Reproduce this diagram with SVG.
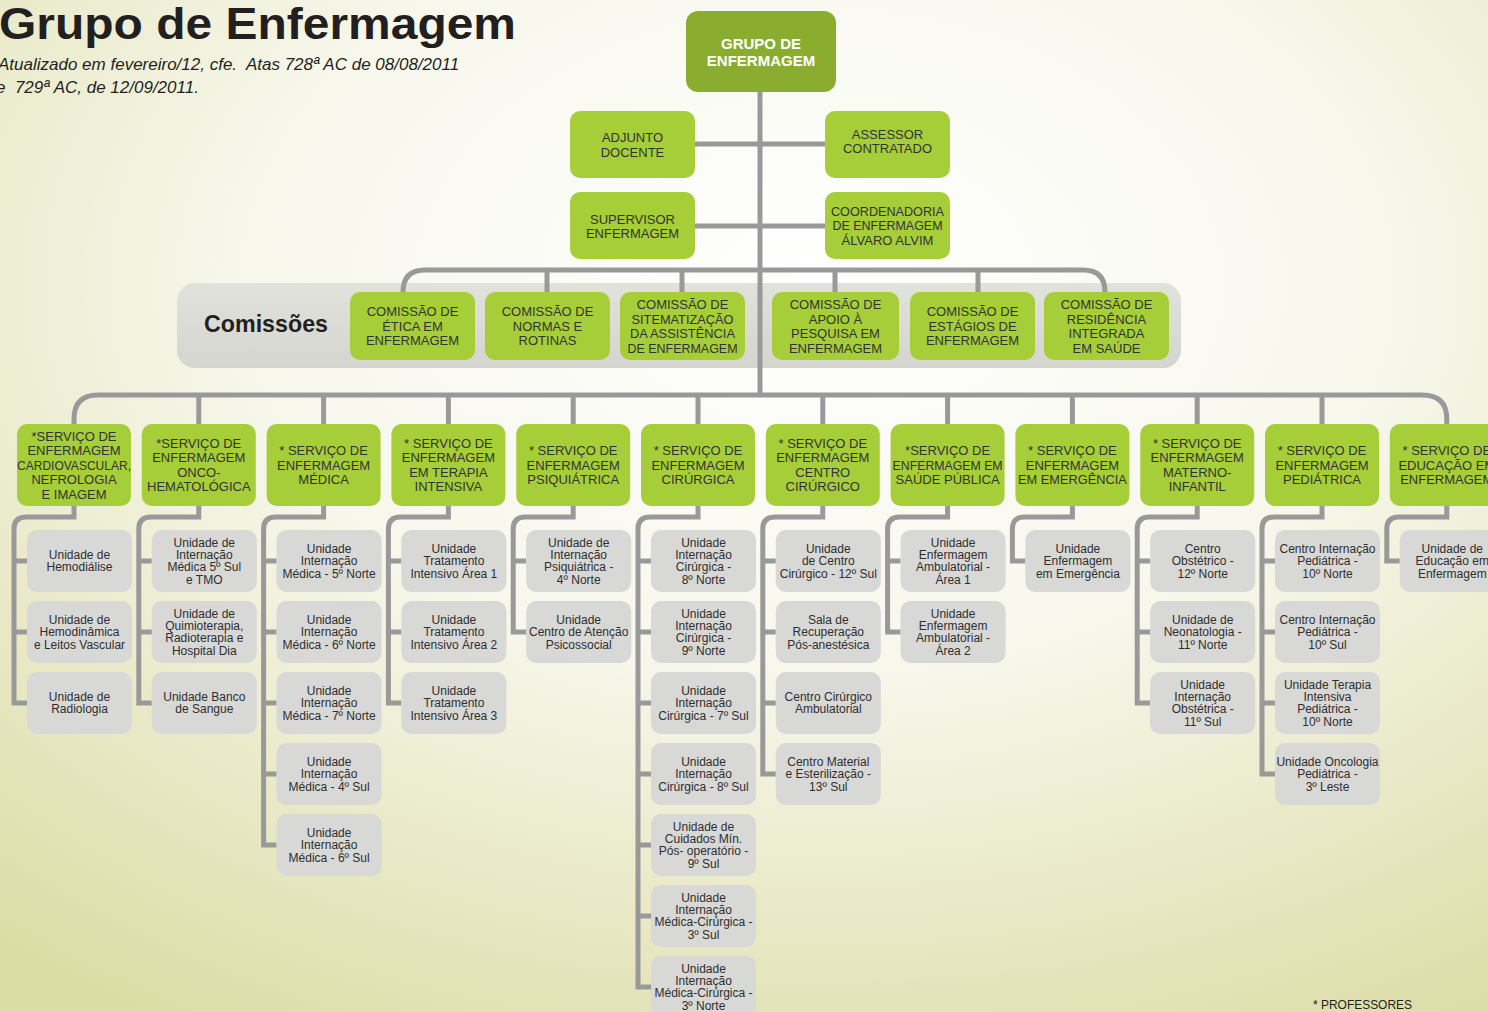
<svg xmlns="http://www.w3.org/2000/svg" width="1488" height="1012" viewBox="0 0 1488 1012">
<defs>
<radialGradient id="bg" cx="0.55" cy="0.28" r="0.85">
<stop offset="0" stop-color="#ffffff"/>
<stop offset="0.45" stop-color="#f7f7ec"/>
<stop offset="1" stop-color="#dcdca6"/>
</radialGradient>
<linearGradient id="panel" x1="0" y1="0" x2="0" y2="1">
<stop offset="0" stop-color="#e2e2dd"/>
<stop offset="1" stop-color="#d5d5d0"/>
</linearGradient>
</defs>
<style>
.g{fill:#a6ce39}
.top{fill:#8aad2f}
.u{fill:#d8d8d6}
.gt{font-family:"Liberation Sans",Arial,sans-serif;font-size:13px;fill:#333333;text-anchor:middle}
.ut{font-family:"Liberation Sans",Arial,sans-serif;font-size:12px;fill:#2e2e2e;text-anchor:middle}
.tt{font-family:"Liberation Sans",Arial,sans-serif;font-size:15px;font-weight:bold;fill:#ffffff;text-anchor:middle}
.con{fill:none;stroke:#999999;stroke-width:5}
</style>
<rect x="0" y="0" width="1488" height="1012" fill="url(#bg)"/>
<text x="-1" y="39" font-family="Liberation Sans, Arial, sans-serif" font-size="45" font-weight="bold" fill="#231f20" textLength="517" lengthAdjust="spacingAndGlyphs">Grupo de Enfermagem</text>
<text x="-2" y="70" font-family="Liberation Sans, Arial, sans-serif" font-size="17" font-style="italic" fill="#231f20" xml:space="preserve">Atualizado em fevereiro/12, cfe.  Atas 728ª AC de 08/08/2011</text>
<text x="-4" y="93" font-family="Liberation Sans, Arial, sans-serif" font-size="17" font-style="italic" fill="#231f20" xml:space="preserve">e  729ª AC, de 12/09/2011.</text>
<text x="1313" y="1009" font-family="Liberation Sans, Arial, sans-serif" font-size="13" fill="#231f20" textLength="99" lengthAdjust="spacingAndGlyphs">* PROFESSORES</text>

<g id="comissoes-panel">
<rect x="177" y="283" width="1004" height="85" rx="18" fill="url(#panel)"/>
<text x="204" y="332" font-family="Liberation Sans, Arial, sans-serif" font-size="24" font-weight="bold" fill="#231f20" textLength="124" lengthAdjust="spacingAndGlyphs">Comissões</text>
</g>

<g id="connectors" class="con">
<path d="M760 92V395"/>
<path d="M695 144H825M695 226H825"/>
<path d="M403 292Q403 270 425 270H1083Q1105 270 1105 292"/>
<path d="M547 270V292M682 270V292M835 270V292M978 270V292"/>
<path d="M74 424V419Q74 395 98 395H1422Q1446.8 395 1446.8 419V424"/>
<path d="M198.8 395V424M323.6 395V424M448.4 395V424M573.2 395V424M698 395V424M822.8 395V424M947.6 395V424M1072.4 395V424M1197.2 395V424M1322 395V424"/>
<path d="M74 506V517H26Q14 517 14 529V703H27M14 561H27M14 632H27"/>
<path d="M198.8 506V517H150.8Q138.8 517 138.8 529V703H151.8M138.8 561H151.8M138.8 632H151.8"/>
<path d="M323.6 506V517H275.6Q263.6 517 263.6 529V845H276.6M263.6 561H276.6M263.6 632H276.6M263.6 703H276.6M263.6 774H276.6"/>
<path d="M448.4 506V517H400.4Q388.4 517 388.4 529V703H401.4M388.4 561H401.4M388.4 632H401.4"/>
<path d="M573.2 506V517H525.2Q513.2 517 513.2 529V632H526.2M513.2 561H526.2"/>
<path d="M698 506V517H650Q638 517 638 529V987H651M638 561H651M638 632H651M638 703H651M638 774H651M638 845H651M638 916H651"/>
<path d="M822.8 506V517H774.8Q762.8 517 762.8 529V774H775.8M762.8 561H775.8M762.8 632H775.8M762.8 703H775.8"/>
<path d="M947.6 506V517H899.6Q887.6 517 887.6 529V632H900.6M887.6 561H900.6"/>
<path d="M1072.4 506V517H1024.4Q1012.4 517 1012.4 529V561H1025.4"/>
<path d="M1197.2 506V517H1149.2Q1137.2 517 1137.2 529V703H1150.2M1137.2 561H1150.2M1137.2 632H1150.2"/>
<path d="M1322 506V517H1274Q1262 517 1262 529V774H1275M1262 561H1275M1262 632H1275M1262 703H1275"/>
<path d="M1446.8 506V517H1398.8Q1386.8 517 1386.8 529V561H1399.8"/>
</g>

<g id="grupo"><rect class="top" x="686" y="11" width="150" height="81" rx="12"/><text class="tt"><tspan x="761" y="49">GRUPO DE</tspan><tspan x="761" y="66">ENFERMAGEM</tspan></text></g>
<g id="adjunto"><rect class="g" x="570" y="111" width="125" height="67" rx="10"/><text class="gt"><tspan x="632.5" y="142">ADJUNTO</tspan><tspan x="632.5" y="156.5">DOCENTE</tspan></text></g>
<g id="assessor"><rect class="g" x="825" y="111" width="125" height="67" rx="10"/><text class="gt"><tspan x="887.5" y="138.5">ASSESSOR</tspan><tspan x="887.5" y="153">CONTRATADO</tspan></text></g>
<g id="supervisor"><rect class="g" x="570" y="192" width="125" height="67" rx="10"/><text class="gt"><tspan x="632.5" y="223.5">SUPERVISOR</tspan><tspan x="632.5" y="238">ENFERMAGEM</tspan></text></g>
<g id="coordenadoria"><rect class="g" x="825" y="192" width="125" height="67" rx="10"/><text class="gt"><tspan x="887.5" y="215.7" textLength="113" lengthAdjust="spacingAndGlyphs">COORDENADORIA</tspan><tspan x="887.5" y="230.2" textLength="110" lengthAdjust="spacingAndGlyphs">DE ENFERMAGEM</tspan><tspan x="887.5" y="244.7">ÁLVARO ALVIM</tspan></text></g>

<g id="com-etica"><rect class="g" x="350" y="292" width="125" height="68" rx="10"/><text class="gt"><tspan x="412.5" y="316.2">COMISSÃO DE</tspan><tspan x="412.5" y="330.7">ÉTICA EM</tspan><tspan x="412.5" y="345.2">ENFERMAGEM</tspan></text></g>
<g id="com-normas"><rect class="g" x="485" y="292" width="125" height="68" rx="10"/><text class="gt"><tspan x="547.5" y="316.2">COMISSÃO DE</tspan><tspan x="547.5" y="330.7">NORMAS E</tspan><tspan x="547.5" y="345.2">ROTINAS</tspan></text></g>
<g id="com-sistematizacao"><rect class="g" x="620" y="292" width="125" height="68" rx="10"/><text class="gt"><tspan x="682.5" y="309">COMISSÃO DE</tspan><tspan x="682.5" y="323.5" textLength="102" lengthAdjust="spacingAndGlyphs">SITEMATIZAÇÃO</tspan><tspan x="682.5" y="338" textLength="105" lengthAdjust="spacingAndGlyphs">DA ASSISTÊNCIA</tspan><tspan x="682.5" y="352.5" textLength="110" lengthAdjust="spacingAndGlyphs">DE ENFERMAGEM</tspan></text></g>
<g id="com-pesquisa"><rect class="g" x="772" y="292" width="127" height="68" rx="10"/><text class="gt"><tspan x="835.5" y="309">COMISSÃO DE</tspan><tspan x="835.5" y="323.5">APOIO À</tspan><tspan x="835.5" y="338">PESQUISA EM</tspan><tspan x="835.5" y="352.5">ENFERMAGEM</tspan></text></g>
<g id="com-estagios"><rect class="g" x="910" y="292" width="125" height="68" rx="10"/><text class="gt"><tspan x="972.5" y="316.2">COMISSÃO DE</tspan><tspan x="972.5" y="330.7">ESTÁGIOS DE</tspan><tspan x="972.5" y="345.2">ENFERMAGEM</tspan></text></g>
<g id="com-residencia"><rect class="g" x="1044" y="292" width="125" height="68" rx="10"/><text class="gt"><tspan x="1106.5" y="309">COMISSÃO DE</tspan><tspan x="1106.5" y="323.5">RESIDÊNCIA</tspan><tspan x="1106.5" y="338">INTEGRADA</tspan><tspan x="1106.5" y="352.5">EM SAÚDE</tspan></text></g>

<g id="s1"><rect class="g" x="17" y="424" width="114" height="82" rx="10"/><text class="gt"><tspan x="74" y="440.7">*SERVIÇO DE</tspan><tspan x="74" y="455.2">ENFERMAGEM</tspan><tspan x="74" y="469.7" textLength="114" lengthAdjust="spacingAndGlyphs">CARDIOVASCULAR,</tspan><tspan x="74" y="484.2">NEFROLOGIA</tspan><tspan x="74" y="498.7">E IMAGEM</tspan></text></g>
<g id="s2"><rect class="g" x="141.8" y="424" width="114" height="82" rx="10"/><text class="gt"><tspan x="198.8" y="447.95">*SERVIÇO DE</tspan><tspan x="198.8" y="462.45">ENFERMAGEM</tspan><tspan x="198.8" y="476.95">ONCO-</tspan><tspan x="198.8" y="491.45">HEMATOLÓGICA</tspan></text></g>
<g id="s3"><rect class="g" x="266.6" y="424" width="114" height="82" rx="10"/><text class="gt"><tspan x="323.6" y="455.2">* SERVIÇO DE</tspan><tspan x="323.6" y="469.7">ENFERMAGEM</tspan><tspan x="323.6" y="484.2">MÉDICA</tspan></text></g>
<g id="s4"><rect class="g" x="391.4" y="424" width="114" height="82" rx="10"/><text class="gt"><tspan x="448.4" y="447.95">* SERVIÇO DE</tspan><tspan x="448.4" y="462.45">ENFERMAGEM</tspan><tspan x="448.4" y="476.95">EM TERAPIA</tspan><tspan x="448.4" y="491.45">INTENSIVA</tspan></text></g>
<g id="s5"><rect class="g" x="516.2" y="424" width="114" height="82" rx="10"/><text class="gt"><tspan x="573.2" y="455.2">* SERVIÇO DE</tspan><tspan x="573.2" y="469.7">ENFERMAGEM</tspan><tspan x="573.2" y="484.2">PSIQUIÁTRICA</tspan></text></g>
<g id="s6"><rect class="g" x="641" y="424" width="114" height="82" rx="10"/><text class="gt"><tspan x="698" y="455.2">* SERVIÇO DE</tspan><tspan x="698" y="469.7">ENFERMAGEM</tspan><tspan x="698" y="484.2">CIRÚRGICA</tspan></text></g>
<g id="s7"><rect class="g" x="765.8" y="424" width="114" height="82" rx="10"/><text class="gt"><tspan x="822.8" y="447.95">* SERVIÇO DE</tspan><tspan x="822.8" y="462.45">ENFERMAGEM</tspan><tspan x="822.8" y="476.95">CENTRO</tspan><tspan x="822.8" y="491.45">CIRÚRGICO</tspan></text></g>
<g id="s8"><rect class="g" x="890.6" y="424" width="114" height="82" rx="10"/><text class="gt"><tspan x="947.6" y="455.2">*SERVIÇO DE</tspan><tspan x="947.6" y="469.7" textLength="110" lengthAdjust="spacingAndGlyphs">ENFERMAGEM EM</tspan><tspan x="947.6" y="484.2">SAÚDE PÚBLICA</tspan></text></g>
<g id="s9"><rect class="g" x="1015.4" y="424" width="114" height="82" rx="10"/><text class="gt"><tspan x="1072.4" y="455.2">* SERVIÇO DE</tspan><tspan x="1072.4" y="469.7">ENFERMAGEM</tspan><tspan x="1072.4" y="484.2" textLength="109" lengthAdjust="spacingAndGlyphs">EM EMERGÊNCIA</tspan></text></g>
<g id="s10"><rect class="g" x="1140.2" y="424" width="114" height="82" rx="10"/><text class="gt"><tspan x="1197.2" y="447.95">* SERVIÇO DE</tspan><tspan x="1197.2" y="462.45">ENFERMAGEM</tspan><tspan x="1197.2" y="476.95">MATERNO-</tspan><tspan x="1197.2" y="491.45">INFANTIL</tspan></text></g>
<g id="s11"><rect class="g" x="1265" y="424" width="114" height="82" rx="10"/><text class="gt"><tspan x="1322" y="455.2">* SERVIÇO DE</tspan><tspan x="1322" y="469.7">ENFERMAGEM</tspan><tspan x="1322" y="484.2">PEDIÁTRICA</tspan></text></g>
<g id="s12"><rect class="g" x="1389.8" y="424" width="114" height="82" rx="10"/><text class="gt"><tspan x="1446.8" y="455.2">* SERVIÇO DE</tspan><tspan x="1446.8" y="469.7">EDUCAÇÃO EM</tspan><tspan x="1446.8" y="484.2">ENFERMAGEM</tspan></text></g>

<g id="u1-1"><rect class="u" x="27" y="530" width="105" height="62" rx="10"/><text class="ut"><tspan x="79.5" y="559.15">Unidade de</tspan><tspan x="79.5" y="571.45">Hemodiálise</tspan></text></g>
<g id="u1-2"><rect class="u" x="27" y="601" width="105" height="62" rx="10"/><text class="ut"><tspan x="79.5" y="624">Unidade de</tspan><tspan x="79.5" y="636.3">Hemodinâmica</tspan><tspan x="79.5" y="648.6">e Leitos Vascular</tspan></text></g>
<g id="u1-3"><rect class="u" x="27" y="672" width="105" height="62" rx="10"/><text class="ut"><tspan x="79.5" y="701.15">Unidade de</tspan><tspan x="79.5" y="713.45">Radiologia</tspan></text></g>

<g id="u2-1"><rect class="u" x="151.8" y="530" width="105" height="62" rx="10"/><text class="ut"><tspan x="204.3" y="546.85">Unidade de</tspan><tspan x="204.3" y="559.15">Internação</tspan><tspan x="204.3" y="571.45">Médica 5º Sul</tspan><tspan x="204.3" y="583.75">e TMO</tspan></text></g>
<g id="u2-2"><rect class="u" x="151.8" y="601" width="105" height="62" rx="10"/><text class="ut"><tspan x="204.3" y="617.85">Unidade de</tspan><tspan x="204.3" y="630.15">Quimioterapia,</tspan><tspan x="204.3" y="642.45">Radioterapia e</tspan><tspan x="204.3" y="654.75">Hospital Dia</tspan></text></g>
<g id="u2-3"><rect class="u" x="151.8" y="672" width="105" height="62" rx="10"/><text class="ut"><tspan x="204.3" y="701.15">Unidade Banco</tspan><tspan x="204.3" y="713.45">de Sangue</tspan></text></g>

<g id="u3-1"><rect class="u" x="276.6" y="530" width="105" height="62" rx="10"/><text class="ut"><tspan x="329.1" y="553">Unidade</tspan><tspan x="329.1" y="565.3">Internação</tspan><tspan x="329.1" y="577.6">Médica - 5º Norte</tspan></text></g>
<g id="u3-2"><rect class="u" x="276.6" y="601" width="105" height="62" rx="10"/><text class="ut"><tspan x="329.1" y="624">Unidade</tspan><tspan x="329.1" y="636.3">Internação</tspan><tspan x="329.1" y="648.6">Médica - 6º Norte</tspan></text></g>
<g id="u3-3"><rect class="u" x="276.6" y="672" width="105" height="62" rx="10"/><text class="ut"><tspan x="329.1" y="695">Unidade</tspan><tspan x="329.1" y="707.3">Internação</tspan><tspan x="329.1" y="719.6">Médica - 7º Norte</tspan></text></g>
<g id="u3-4"><rect class="u" x="276.6" y="743" width="105" height="62" rx="10"/><text class="ut"><tspan x="329.1" y="766">Unidade</tspan><tspan x="329.1" y="778.3">Internação</tspan><tspan x="329.1" y="790.6">Médica - 4º Sul</tspan></text></g>
<g id="u3-5"><rect class="u" x="276.6" y="814" width="105" height="62" rx="10"/><text class="ut"><tspan x="329.1" y="837">Unidade</tspan><tspan x="329.1" y="849.3">Internação</tspan><tspan x="329.1" y="861.6">Médica - 6º Sul</tspan></text></g>

<g id="u4-1"><rect class="u" x="401.4" y="530" width="105" height="62" rx="10"/><text class="ut"><tspan x="453.9" y="553">Unidade</tspan><tspan x="453.9" y="565.3">Tratamento</tspan><tspan x="453.9" y="577.6">Intensivo Área 1</tspan></text></g>
<g id="u4-2"><rect class="u" x="401.4" y="601" width="105" height="62" rx="10"/><text class="ut"><tspan x="453.9" y="624">Unidade</tspan><tspan x="453.9" y="636.3">Tratamento</tspan><tspan x="453.9" y="648.6">Intensivo Área 2</tspan></text></g>
<g id="u4-3"><rect class="u" x="401.4" y="672" width="105" height="62" rx="10"/><text class="ut"><tspan x="453.9" y="695">Unidade</tspan><tspan x="453.9" y="707.3">Tratamento</tspan><tspan x="453.9" y="719.6">Intensivo Área 3</tspan></text></g>

<g id="u5-1"><rect class="u" x="526.2" y="530" width="105" height="62" rx="10"/><text class="ut"><tspan x="578.7" y="546.85">Unidade de</tspan><tspan x="578.7" y="559.15">Internação</tspan><tspan x="578.7" y="571.45">Psiquiátrica -</tspan><tspan x="578.7" y="583.75">4º Norte</tspan></text></g>
<g id="u5-2"><rect class="u" x="526.2" y="601" width="105" height="62" rx="10"/><text class="ut"><tspan x="578.7" y="624">Unidade</tspan><tspan x="578.7" y="636.3">Centro de Atenção</tspan><tspan x="578.7" y="648.6">Psicossocial</tspan></text></g>

<g id="u6-1"><rect class="u" x="651" y="530" width="105" height="62" rx="10"/><text class="ut"><tspan x="703.5" y="546.85">Unidade</tspan><tspan x="703.5" y="559.15">Internação</tspan><tspan x="703.5" y="571.45">Cirúrgica -</tspan><tspan x="703.5" y="583.75">8º Norte</tspan></text></g>
<g id="u6-2"><rect class="u" x="651" y="601" width="105" height="62" rx="10"/><text class="ut"><tspan x="703.5" y="617.85">Unidade</tspan><tspan x="703.5" y="630.15">Internação</tspan><tspan x="703.5" y="642.45">Cirúrgica -</tspan><tspan x="703.5" y="654.75">9º Norte</tspan></text></g>
<g id="u6-3"><rect class="u" x="651" y="672" width="105" height="62" rx="10"/><text class="ut"><tspan x="703.5" y="695">Unidade</tspan><tspan x="703.5" y="707.3">Internação</tspan><tspan x="703.5" y="719.6">Cirúrgica - 7º Sul</tspan></text></g>
<g id="u6-4"><rect class="u" x="651" y="743" width="105" height="62" rx="10"/><text class="ut"><tspan x="703.5" y="766">Unidade</tspan><tspan x="703.5" y="778.3">Internação</tspan><tspan x="703.5" y="790.6">Cirúrgica - 8º Sul</tspan></text></g>
<g id="u6-5"><rect class="u" x="651" y="814" width="105" height="62" rx="10"/><text class="ut"><tspan x="703.5" y="830.85">Unidade de</tspan><tspan x="703.5" y="843.15">Cuidados Mín.</tspan><tspan x="703.5" y="855.45">Pós- operatório -</tspan><tspan x="703.5" y="867.75">9º Sul</tspan></text></g>
<g id="u6-6"><rect class="u" x="651" y="885" width="105" height="62" rx="10"/><text class="ut"><tspan x="703.5" y="901.85">Unidade</tspan><tspan x="703.5" y="914.15">Internação</tspan><tspan x="703.5" y="926.45">Médica-Cirúrgica -</tspan><tspan x="703.5" y="938.75">3º Sul</tspan></text></g>
<g id="u6-7"><rect class="u" x="651" y="956" width="105" height="62" rx="10"/><text class="ut"><tspan x="703.5" y="972.85">Unidade</tspan><tspan x="703.5" y="985.15">Internação</tspan><tspan x="703.5" y="997.45">Médica-Cirúrgica -</tspan><tspan x="703.5" y="1009.75">3º Norte</tspan></text></g>

<g id="u7-1"><rect class="u" x="775.8" y="530" width="105" height="62" rx="10"/><text class="ut"><tspan x="828.3" y="553">Unidade</tspan><tspan x="828.3" y="565.3">de Centro</tspan><tspan x="828.3" y="577.6">Cirúrgico - 12º Sul</tspan></text></g>
<g id="u7-2"><rect class="u" x="775.8" y="601" width="105" height="62" rx="10"/><text class="ut"><tspan x="828.3" y="624">Sala de</tspan><tspan x="828.3" y="636.3">Recuperação</tspan><tspan x="828.3" y="648.6">Pós-anestésica</tspan></text></g>
<g id="u7-3"><rect class="u" x="775.8" y="672" width="105" height="62" rx="10"/><text class="ut"><tspan x="828.3" y="701.15">Centro Cirúrgico</tspan><tspan x="828.3" y="713.45">Ambulatorial</tspan></text></g>
<g id="u7-4"><rect class="u" x="775.8" y="743" width="105" height="62" rx="10"/><text class="ut"><tspan x="828.3" y="766">Centro Material</tspan><tspan x="828.3" y="778.3">e Esterilização -</tspan><tspan x="828.3" y="790.6">13º Sul</tspan></text></g>

<g id="u8-1"><rect class="u" x="900.6" y="530" width="105" height="62" rx="10"/><text class="ut"><tspan x="953.1" y="546.85">Unidade</tspan><tspan x="953.1" y="559.15">Enfermagem</tspan><tspan x="953.1" y="571.45">Ambulatorial -</tspan><tspan x="953.1" y="583.75">Área 1</tspan></text></g>
<g id="u8-2"><rect class="u" x="900.6" y="601" width="105" height="62" rx="10"/><text class="ut"><tspan x="953.1" y="617.85">Unidade</tspan><tspan x="953.1" y="630.15">Enfermagem</tspan><tspan x="953.1" y="642.45">Ambulatorial -</tspan><tspan x="953.1" y="654.75">Área 2</tspan></text></g>

<g id="u9-1"><rect class="u" x="1025.4" y="530" width="105" height="62" rx="10"/><text class="ut"><tspan x="1077.9" y="553">Unidade</tspan><tspan x="1077.9" y="565.3">Enfermagem</tspan><tspan x="1077.9" y="577.6">em Emergência</tspan></text></g>

<g id="u10-1"><rect class="u" x="1150.2" y="530" width="105" height="62" rx="10"/><text class="ut"><tspan x="1202.7" y="553">Centro</tspan><tspan x="1202.7" y="565.3">Obstétrico -</tspan><tspan x="1202.7" y="577.6">12º Norte</tspan></text></g>
<g id="u10-2"><rect class="u" x="1150.2" y="601" width="105" height="62" rx="10"/><text class="ut"><tspan x="1202.7" y="624">Unidade de</tspan><tspan x="1202.7" y="636.3">Neonatologia -</tspan><tspan x="1202.7" y="648.6">11º Norte</tspan></text></g>
<g id="u10-3"><rect class="u" x="1150.2" y="672" width="105" height="62" rx="10"/><text class="ut"><tspan x="1202.7" y="688.85">Unidade</tspan><tspan x="1202.7" y="701.15">Internação</tspan><tspan x="1202.7" y="713.45">Obstétrica -</tspan><tspan x="1202.7" y="725.75">11º Sul</tspan></text></g>

<g id="u11-1"><rect class="u" x="1275" y="530" width="105" height="62" rx="10"/><text class="ut"><tspan x="1327.5" y="553">Centro Internação</tspan><tspan x="1327.5" y="565.3">Pediátrica -</tspan><tspan x="1327.5" y="577.6">10º Norte</tspan></text></g>
<g id="u11-2"><rect class="u" x="1275" y="601" width="105" height="62" rx="10"/><text class="ut"><tspan x="1327.5" y="624">Centro Internação</tspan><tspan x="1327.5" y="636.3">Pediátrica -</tspan><tspan x="1327.5" y="648.6">10º Sul</tspan></text></g>
<g id="u11-3"><rect class="u" x="1275" y="672" width="105" height="62" rx="10"/><text class="ut"><tspan x="1327.5" y="688.85">Unidade Terapia</tspan><tspan x="1327.5" y="701.15">Intensiva</tspan><tspan x="1327.5" y="713.45">Pediátrica -</tspan><tspan x="1327.5" y="725.75">10º Norte</tspan></text></g>
<g id="u11-4"><rect class="u" x="1275" y="743" width="105" height="62" rx="10"/><text class="ut"><tspan x="1327.5" y="766">Unidade Oncologia</tspan><tspan x="1327.5" y="778.3">Pediátrica -</tspan><tspan x="1327.5" y="790.6">3º Leste</tspan></text></g>

<g id="u12-1"><rect class="u" x="1399.8" y="530" width="105" height="62" rx="10"/><text class="ut"><tspan x="1452.3" y="553">Unidade de</tspan><tspan x="1452.3" y="565.3">Educação em</tspan><tspan x="1452.3" y="577.6">Enfermagem</tspan></text></g>
</svg>
